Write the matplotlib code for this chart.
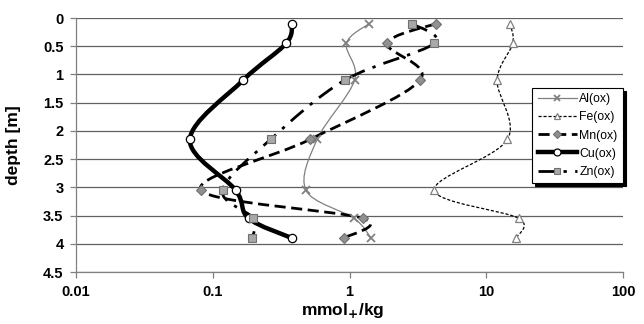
import numpy as np
import matplotlib
matplotlib.use("Agg")
import matplotlib.pyplot as plt
from matplotlib.path import Path
from matplotlib.patches import PathPatch
from matplotlib.lines import Line2D
from matplotlib.ticker import FuncFormatter

plt.rcParams['font.family'] = ['Liberation Sans', 'DejaVu Sans']

# depth of the samples [m]
depth = [0.1, 0.45, 1.1, 2.15, 3.05, 3.55, 3.9]

# oxalate-extractable contents, mmol+/kg
al_ox = [1.39, 0.95, 1.09, 0.58, 0.48, 1.08, 1.44]
fe_ox = [14.9, 15.6, 12.0, 14.3, 4.16, 17.3, 16.5]
mn_ox = [4.28, 1.89, 3.28, 0.515, 0.082, 1.26, 0.91]
cu_ox = [0.38, 0.344, 0.167, 0.068, 0.147, 0.183, 0.38]
zn_ox = [2.86, 4.16, 0.925, 0.265, 0.118, 0.198, 0.194]

names = ['Al(ox)', 'Fe(ox)', 'Mn(ox)', 'Cu(ox)', 'Zn(ox)']
series = [al_ox, fe_ox, mn_ox, cu_ox, zn_ox]


def smooth_path(xs, ys):
    # Excel-style smoothed line: Bezier segments through the data points
    # (control points worked out in log-x space, so they map right on the log axis)
    pts = np.column_stack([np.log10(xs), ys])
    n = len(pts)
    verts = [pts[0]]
    codes = [Path.MOVETO]
    for i in range(n - 1):
        p0 = pts[i - 1] if i > 0 else pts[i]
        p1 = pts[i]
        p2 = pts[i + 1]
        p3 = pts[i + 2] if i + 2 < n else pts[i + 1]
        verts += [p1 + (p2 - p0) / 6.0, p2 - (p3 - p1) / 6.0, p2]
        codes += [Path.CURVE4] * 3
    verts = np.array(verts)
    verts[:, 0] = 10 ** verts[:, 0]
    return Path(verts, codes)


styles = [
    dict(color='#808080', lw=0.9, ls='-', marker='x', ms=6, mfc='#808080', mec='#808080', mew=1.3),
    dict(color='black', lw=0.9, ls=(0, (2.5, 1.5)), marker='^', ms=6, mfc='white', mec='#808080', mew=0.9),
    dict(color='black', lw=2.0, ls=(0, (4, 2)), marker='D', ms=5, mfc='#909090', mec='#707070', mew=0.8),
    dict(color='black', lw=3.2, ls='-', marker='o', ms=6, mfc='white', mec='black', mew=0.9),
    dict(color='black', lw=2.0, ls=(0, (6, 3, 1.2, 3)), marker='s', ms=6, mfc='#a8a8a8', mec='#707070', mew=0.8),
]

fig = plt.figure(figsize=(6.44, 3.24), dpi=100)
ax = fig.add_axes([76 / 644, 1 - 272 / 324, (623 - 76) / 644, (272 - 18) / 324])

ax.set_xscale('log')
ax.set_xlim(0.01, 100)
ax.set_ylim(4.5, 0)

for vals, st in zip(series, styles):
    patch = PathPatch(smooth_path(vals, depth), fill=False, edgecolor=st['color'],
                      lw=st['lw'], linestyle=st['ls'], capstyle='butt', zorder=3)
    ax.add_patch(patch)
    ax.plot(vals, depth, ls='none', marker=st['marker'], ms=st['ms'], mfc=st['mfc'],
            mec=st['mec'], mew=st['mew'], zorder=4)

# grid and axes look
ax.set_yticks(np.arange(0, 4.51, 0.5))
ax.set_xticks([0.01, 0.1, 1, 10, 100])
ax.xaxis.set_minor_locator(plt.NullLocator())
fmt = FuncFormatter(lambda v, p: '%g' % v)
ax.xaxis.set_major_formatter(fmt)
ax.yaxis.set_major_formatter(fmt)
ax.grid(axis='y', color='#606060', lw=0.9, zorder=1)
ax.set_axisbelow(True)
for s in ['top', 'right']:
    ax.spines[s].set_visible(False)
for s in ['left', 'bottom']:
    ax.spines[s].set_color('#808080')
    ax.spines[s].set_linewidth(0.9)
ax.tick_params(axis='both', colors='#808080', labelcolor='black', length=4, width=0.9)
ax.tick_params(axis='y', pad=5)
ax.tick_params(axis='x', pad=5)
for lab in ax.get_xticklabels() + ax.get_yticklabels():
    lab.set_fontsize(10.5)
    lab.set_fontweight('bold')

ax.set_ylabel('depth [m]', fontsize=12.5, fontweight='bold')
ax.yaxis.set_label_coords(-0.1, 0.5)
ax.set_xlabel(r'mmol$_\mathbf{+}$/kg', fontsize=12.5, fontweight='bold')
ax.xaxis.set_label_coords(0.488, -0.115)

handles = []
for st in styles:
    handles.append(Line2D([], [], color=st['color'], lw=st['lw'], ls=st['ls'], marker=st['marker'],
                          ms=st['ms'] - 1, mfc=st['mfc'], mec=st['mec'], mew=st['mew']))
leg = ax.legend(handles, names, loc='upper right', bbox_to_anchor=(1.0, 0.725), fontsize=8.8,
                frameon=True, fancybox=False, shadow={'color': 'black', 'alpha': 1}, edgecolor='black',
                framealpha=1, handlelength=3.2, handletextpad=0.2, labelspacing=0.5,
                borderpad=0.45, borderaxespad=0)
leg.get_frame().set_linewidth(0.8)

fig.savefig('out.png', dpi=100)
